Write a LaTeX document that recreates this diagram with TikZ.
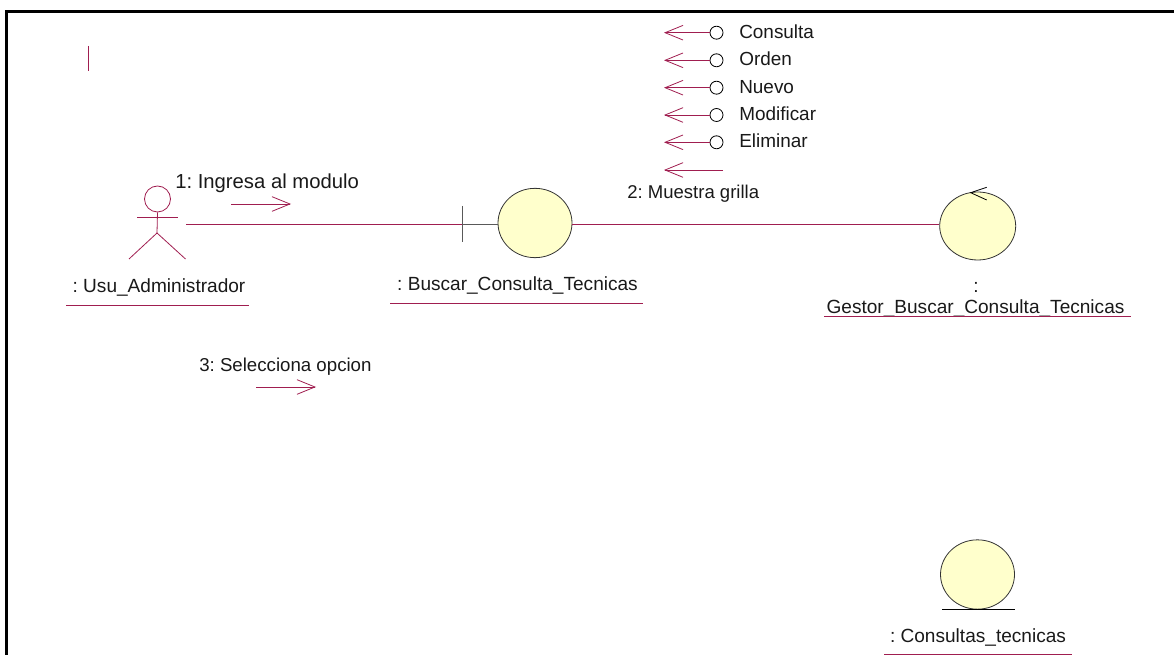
\documentclass[tikz,border=0pt]{standalone}
\usepackage{fontspec}
\setmainfont{Liberation Sans}
\usetikzlibrary{arrows.meta,shapes.geometric}
\definecolor{maroon}{RGB}{160,30,80}
\definecolor{bulb}{RGB}{255,255,204}
\tikzset{
  px/.style={x=0.75pt,y=-0.75pt},
  wire/.style={draw=maroon,line width=0.6pt},
  flow/.style={wire,-{Straight Barb[length=13.5pt,width=11pt,line width=0.6pt]}},
  uline/.style={wire,line width=0.6pt},
  bubble/.style={ellipse,draw=black!80,fill=bulb,line width=0.6pt,inner sep=0pt,minimum width=55.5pt,minimum height=52pt},
  lollipop/.style={circle,draw=black,fill=white,line width=0.6pt,inner sep=0pt,minimum size=9.75pt},
  lbl/.style={inner sep=0pt,font=\fontsize{14.3}{16}\selectfont\frenchspacing,text=black!90,anchor=base},
  lbll/.style={lbl,anchor=base west},
  edge/.style={draw=black,line width=0.6pt}
}
\begin{document}
\begin{tikzpicture}[px]
\useasboundingbox (0,0) rectangle (1174,655);
% frame
\coordinate (f1) at (6.5,655); \coordinate (f2) at (6.5,11.5); \coordinate (f3) at (1174,11.5);
\draw[black,line width=1.6pt] (f1) -- (f2) -- (f3);
% stray tick
\coordinate (t1) at (88,46); \coordinate (t2) at (88,71);
\draw[wire] (t1) -- (t2);
% bubbles
\node[bubble] (bnd) at (535,223) {};
\node[bubble,minimum width=57pt,minimum height=51pt] (ctl) at (977.7,226) {};
\node[bubble] (ent) at (977.5,574.5) {};
% boundary stem
\coordinate (bt) at (462,206); \coordinate (bb) at (462,242); \coordinate (bm) at (462,224);
\draw[edge,black!65] (bt) -- (bb);
\draw[edge,black!65] (bm) -- (bm -| bnd.west);
% control arrow
\coordinate (c0) at (970.7,192.7); \coordinate (c1) at (986.7,187.3); \coordinate (c2) at (986.7,200);
\draw[edge] (c1) -- (c0) -- (c2);
% entity bar
\coordinate (e1) at (942,609); \coordinate (e2) at (1015,609);
\draw[edge] (e1) -- (e2);
% actor
\node[circle,draw=maroon,line width=0.6pt,fill=white,inner sep=0pt,minimum size=19.5pt] (head) at (157.5,199) {};
\coordinate (hip) at (157,233);
\coordinate (armL) at (137,217); \coordinate (armR) at (177.5,217);
\coordinate (legL) at (129,259); \coordinate (legR) at (185.5,259);
\draw[wire] (head.south) -- (hip);
\draw[wire] (armL) -- (armR);
\draw[wire] (legL) -- (hip) -- (legR);
% links
\coordinate (a0) at (186,224);
\draw[wire] (a0) -- (bm);
\draw[wire] (bm -| bnd.east) -- (bm -| ctl.west);
% messages
\coordinate (m1a) at (231,204); \coordinate (m1b) at (291,204);
\draw[flow] (m1a) -- (m1b);
\node[lbll,font=\fontsize{15.2}{17}\selectfont\frenchspacing] (m1) at (175,189) {1: Ingresa al modulo};
\coordinate (m3a) at (256,387); \coordinate (m3b) at (316,387);
\draw[flow] (m3a) -- (m3b);
\node[lbll,font=\fontsize{14}{16}\selectfont\frenchspacing] (m3) at (199,371.5) {3: Selecciona opcion};
\coordinate (m2a) at (723,170); \coordinate (m2b) at (664,170);
\draw[flow] (m2a) -- (m2b);
\node[lbll,font=\fontsize{13.9}{16}\selectfont\frenchspacing] (m2) at (627,199) {2: Muestra grilla};
% lollipops
\foreach \y/\t/\n in {32.7/Consulta/a,60.3/Orden/b,87.7/Nuevo/c,115/Modificar/d,142.3/Eliminar/e}{
  \node[lollipop] (l\n) at (716.5,\y) {};
  \coordinate (h\n) at (664,\y);
  \draw[flow] (l\n.west) -- (h\n);
  \node[lbll,font=\fontsize{14.2}{16}\selectfont\frenchspacing] (t\n) at (739,\y+5.5) {\t};
}
% labels
\node[lbl] (n1) at (159,292.5) {: Usu\_Administrador};
\coordinate (n1a) at (66,305); \coordinate (n1b) at (249,305);
\draw[uline] (n1a) -- (n1b);
\node[lbl] (n2) at (517.5,291) {: Buscar\_Consulta\_Tecnicas};
\coordinate (n2a) at (390,303); \coordinate (n2b) at (643,303);
\draw[uline] (n2a) -- (n2b);
\node[lbl] (n3a) at (976,293) {:};
\node[lbl] (n3) at (975.5,314) {Gestor\_Buscar\_Consulta\_Tecnicas};
\coordinate (n3l) at (824,316); \coordinate (n3r) at (1131,316);
\draw[uline] (n3l) -- (n3r);
\node[lbl] (n4) at (978,642) {: Consultas\_tecnicas};
\coordinate (n4a) at (884,654); \coordinate (n4b) at (1072,654);
\draw[uline] (n4a) -- (n4b);
\end{tikzpicture}
\end{document}
